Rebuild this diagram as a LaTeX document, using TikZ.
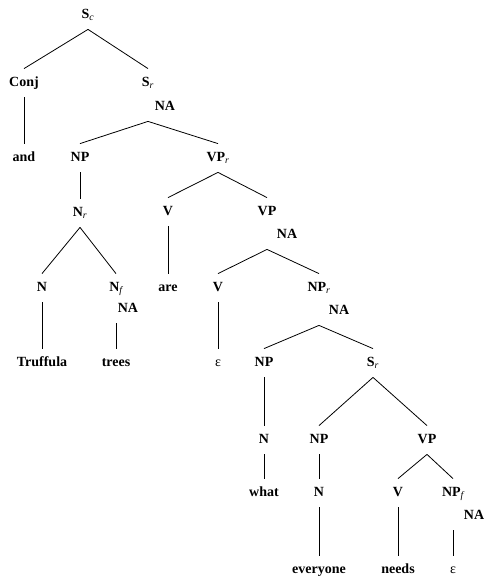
\documentclass[tikz,border=0pt]{standalone}
\usepackage{fontspec}
\setmainfont{Liberation Serif}
\newcommand{\lsub}[1]{\textsubscript{\normalfont\itshape #1}}
\newcommand{\eps}{{\mdseries ε}}
\begin{document}
\begin{tikzpicture}[x=1pt, y=-1pt, line width=0.8pt,
	every node/.style={font=\fontsize{14}{16}\selectfont\bfseries, text height=10pt, text depth=3pt, inner xsep=2pt, inner ysep=7.5pt}]
		\useasboundingbox (0,0) rectangle (494,586);
		\node (Sc) at (88,15) {S\lsub{c}};
		\node (conj) at (24,83) {Conj};
		\node (Sr) at (148,83) {S\lsub{r}};
		\node (SrNA) at (165,107) {NA};
		\node (and) at (24,158) {and};
		\node (NP1) at (80,158) {NP};
		\node (VPr) at (218,158) {VP\lsub{r}};
		\node (Nr) at (80,213) {N\lsub{r}};
		\node (V1) at (168,212) {V};
		\node (VP) at (267,212) {VP};
		\node (VPNA) at (287,235) {NA};
		\node (N1) at (42,288) {N};
		\node (Nf) at (116,288) {N\lsub{f}};
		\node (NfNA) at (128,309) {NA};
		\node (are) at (168,288) {are};
		\node (V2) at (218,288) {V};
		\node (NPr) at (319,288) {NP\lsub{r}};
		\node (NPrNA) at (339,311) {NA};
		\node (truffula) at (42,363) {Truffula};
		\node (trees) at (116,363) {trees};
		\node (eps1) at (218,363) {\eps};
		\node (NP2) at (264,363) {NP};
		\node (Sr2) at (373,363) {S\lsub{r}};
		\node (N2) at (264,440) {N};
		\node (NP3) at (319,440) {NP};
		\node (VP2) at (427,440) {VP};
		\node (what) at (264,493) {what};
		\node (N3) at (319,493) {N};
		\node (V3) at (398,493) {V};
		\node (NPf) at (453,493) {NP\lsub{f}};
		\node (NPfNA) at (474,516) {NA};
		\node (everyone) at (319,570) {everyone};
		\node (needs) at (398,570) {needs};
		\node (eps2) at (453,570) {\eps};
		\draw (Sc.south) -- (conj.north);
		\draw (Sc.south) -- (Sr.north);
		\draw (conj.south) -- (and.north);
		\draw (Sr |- SrNA.south) -- (NP1.north);
		\draw (Sr |- SrNA.south) -- (VPr.north);
		\draw (NP1.south) -- (Nr.north);
		\draw (Nr.south) -- (N1.north);
		\draw (Nr.south) -- (Nf.north);
		\draw (N1.south) -- (truffula.north);
		\draw (Nf |- NfNA.south) -- (trees.north);
		\draw (VPr.south) -- (V1.north);
		\draw (VPr.south) -- (VP.north);
		\draw (V1.south) -- (are.north);
		\draw (VP |- VPNA.south) -- (V2.north);
		\draw (VP |- VPNA.south) -- (NPr.north);
		\draw (V2.south) -- (eps1.north);
		\draw (NPr |- NPrNA.south) -- (NP2.north);
		\draw (NPr |- NPrNA.south) -- (Sr2.north);
		\draw (NP2.south) -- (N2.north);
		\draw (N2.south) -- (what.north);
		\draw (Sr2.south) -- (NP3.north);
		\draw (Sr2.south) -- (VP2.north);
		\draw (NP3.south) -- (N3.north);
		\draw (N3.south) -- (everyone.north);
		\draw (VP2.south) -- (V3.north);
		\draw (VP2.south) -- (NPf.north);
		\draw (V3.south) -- (needs.north);
		\draw (NPf |- NPfNA.south) -- (eps2.north);
	\end{tikzpicture}
\end{document}
